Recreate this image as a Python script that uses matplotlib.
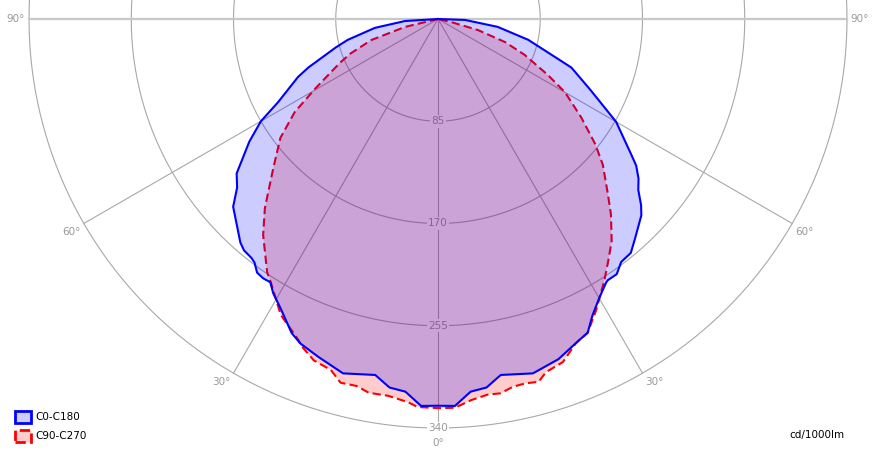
import matplotlib.pyplot as plt
import numpy as np
from matplotlib.patches import Patch

# gamma in degrees (0 = straight down, negative = C180 / C270 half), values in cd/1000lm
c0_angles = [-90, -86.5, -82, -77, -74.5, -69.5, -67.5, -62.5, -60, -57, -53, -52.5, -50, -47.5,
             -41.5, -40, -38, -37, -35.5, -34, -32.5, -31, -28.5, -25, -23, -19.5, -15, -10,
             -7.5, -5, -2.5, 0, 2.5, 5, 7.5, 10, 15, 19.5, 23.5, 25.5, 27.5, 30, 32.5, 33, 35,
             37, 39.5, 42, 46, 47.5, 49.5, 51.5, 53.5, 55, 60, 65, 70, 72.5, 77, 82.5, 88, 90]
c0_values = [0, 27.5, 53, 77, 88, 115, 126, 150, 170, 187, 208, 211, 218, 231,
             248, 251, 252, 253.5, 259, 260, 259.5, 266, 274, 288, 293, 298, 305, 300.5,
             309, 311, 322, 321.5, 322, 311, 309, 300.5, 305, 300, 292, 289, 278, 268, 260, 259, 259,
             253, 252, 245, 235, 229, 219, 213, 205, 196, 171, 140, 118, 99, 77, 50, 22.5, 0]

c90_angles = [-90, -76.5, -72.5, -68.5, -66, -60.5, -57, -53, -48, -42.5, -39, -34, -32.5, -28,
              -23.5, -22.5, -20, -17, -15, -12.5, -10.5, -7.5, -4.5, -3, 0, 2.5, 5, 7.5, 9.5,
              11.5, 13.5, 15.5, 17, 20, 23, 25.5, 28.5, 32.5, 35, 38, 41.5, 44, 48.5, 51.5,
              55.5, 60, 63, 67.5, 71, 74.5, 77, 90]
c90_values = [0, 28, 58, 78, 89, 117, 142, 164, 184, 213, 231, 254, 259, 278.5,
              291, 295, 302, 305, 313, 312.5, 316, 316, 319.5, 323, 323.5, 323.5, 318, 315, 315.5,
              312, 311.5, 313, 307, 303.5, 293, 289, 275.5, 257.5, 246.5, 234.5, 217, 203.5, 183, 167,
              144.5, 122, 102.5, 78, 59, 34.5, 11, 0]

ring_values = [85, 170, 255, 340]
spoke_angles = [-90, -60, -30, 0, 30, 60, 90]
angle_labels = ['90°', '60°', '30°', '0°', '30°', '60°', '90°']
legend_labels = ['C0-C180', 'C90-C270']
unit_label = 'cd/1000lm'

fig = plt.figure(figsize=(8.73, 4.55), dpi=100)
ax = fig.add_axes([17 / 873, 15 / 455, 842 / 873, 842 / 455], projection='polar')
ax.set_theta_zero_location('S')
ax.set_theta_direction(1)
ax.set_ylim(0, 350)
ax.grid(False)
ax.set_xticks([])
ax.set_yticks([])
ax.spines['polar'].set_visible(False)
ax.patch.set_alpha(0)

# grid circles and spokes
full = np.linspace(0, 2 * np.pi, 721)
for rv in ring_values:
    ax.plot(full, np.full_like(full, rv), color='#a8a8a8', lw=0.8, zorder=1)
for a in spoke_angles:
    t = np.radians(a)
    if abs(a) == 90:
        ax.plot([t, t], [0, 340], color='#c8c8c8', lw=1.6, zorder=1)
    else:
        ax.plot([t, t], [0, 340], color='#a8a8a8', lw=0.8, zorder=1)

# labels
for rv in ring_values:
    ax.text(0, rv, str(rv), ha='center', va='center', fontsize=7.5, color='#999999', zorder=2,
            bbox=dict(facecolor='white', edgecolor='none', pad=1))
for a, lab in zip(spoke_angles, angle_labels):
    if a == 0:
        off = (0, -15)
    elif abs(a) == 90:
        off = (np.sign(a) * 13, 0)
    else:
        off = (np.sign(a) * 12, -9)
    ax.annotate(lab, (np.radians(a), 340), xytext=off, textcoords='offset pixels',
                ha='center', va='center', fontsize=7.5, color='#999999')

# curves: C90-C270 first, C0-C180 on top
t90 = np.radians(c90_angles)
ax.fill(t90, c90_values, color=(1, 0, 0), alpha=0.2, lw=0, zorder=3)
ax.plot(t90, c90_values, color='red', lw=1.5, ls=(0, (4, 2)), zorder=4)

t0 = np.radians(c0_angles)
ax.fill(t0, c0_values, color=(0, 0, 1), alpha=0.2, lw=0, zorder=5)
ax.plot(t0, c0_values, color='blue', lw=1.5, zorder=6)

handles = [Patch(facecolor=(0.8, 0.8, 1), edgecolor='blue', lw=2),
           Patch(facecolor=(1, 0.8, 0.8), edgecolor='red', lw=2, ls='--')]
fig.legend(handles, legend_labels, loc='lower left', bbox_to_anchor=(15 / 873, 13 / 455),
           frameon=False, fontsize=7.5, handlelength=1.5, handleheight=1.4, handletextpad=0.5,
           labelspacing=0.7, borderpad=0, borderaxespad=0)

fig.text(845 / 873, 20 / 455, unit_label, ha='right', va='center', fontsize=7.5)

fig.savefig('out.png', dpi=100)
